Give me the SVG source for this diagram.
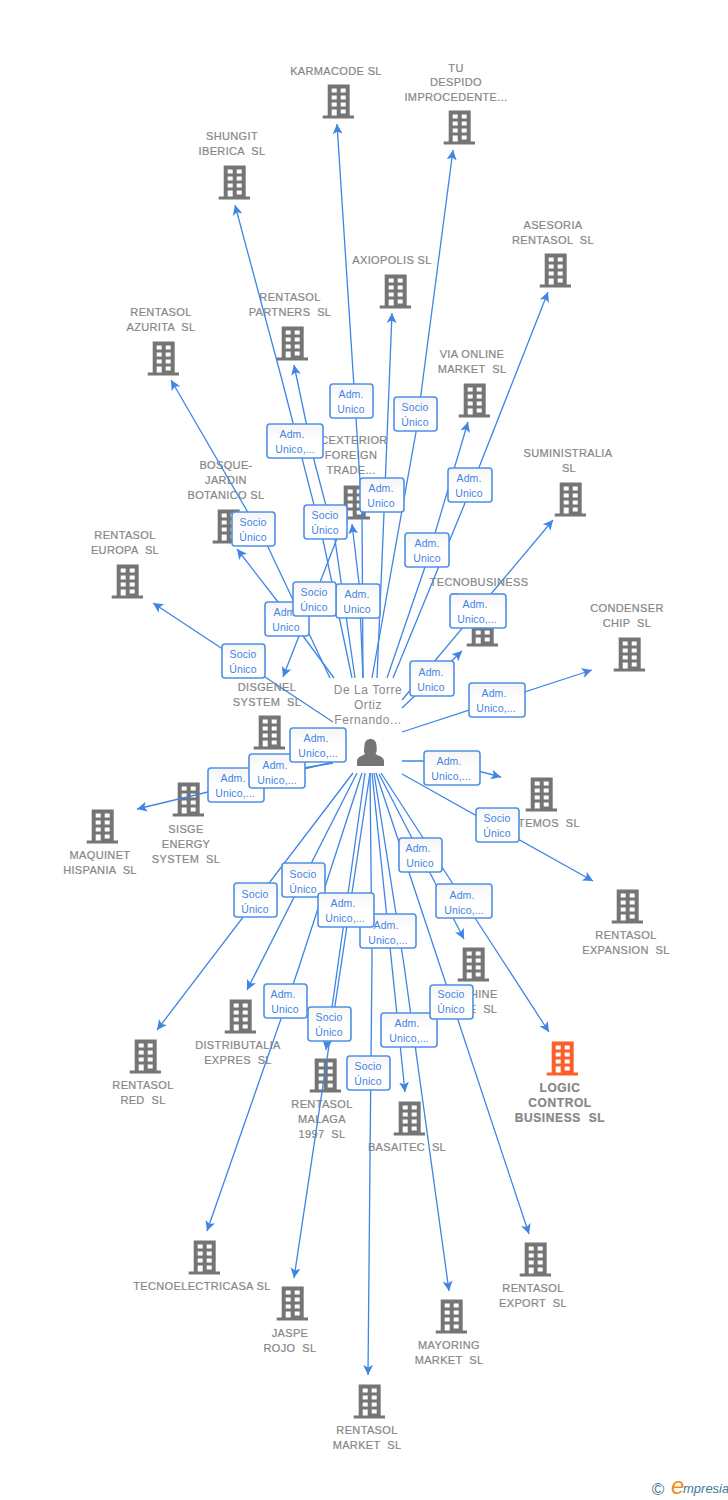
<svg xmlns="http://www.w3.org/2000/svg" width="728" height="1500" viewBox="0 0 728 1500">
<style>
text{font-family:"Liberation Sans",Arial,sans-serif}
.n text{font-size:11px;fill:#868686;stroke:#868686;stroke-width:.2;text-anchor:middle;white-space:pre;letter-spacing:.35px}
.n.hi text{font-size:12px;letter-spacing:.6px;font-weight:bold}
.c path{fill:none;stroke:#3f85e3;stroke-width:1.3;marker-end:url(#a)}
.b rect{fill:url(#g);stroke:#4f90e6;stroke-width:1.6}
.b text{font-size:10.5px;fill:#3f85e3;text-anchor:middle;letter-spacing:.1px}
.p{font-size:12px;fill:#8a8a8a;text-anchor:middle;letter-spacing:.55px}
</style>
<defs>
<linearGradient id="g" x1="0" y1="0" x2="0" y2="1"><stop offset="0" stop-color="#f5f5f5"/><stop offset=".5" stop-color="#fff"/></linearGradient>
<marker id="a" markerUnits="userSpaceOnUse" markerWidth="12" markerHeight="12" refX="10" refY="5.5" orient="auto"><path d="M0,0.5 L10,5.5 L0,10.5 L2.5,5.5Z" fill="#3f85e3"/></marker>
<symbol id="i" width="32" height="35" viewBox="-0.7 -0.4 32 35"><path fill="#757575" fill-rule="evenodd" d="M5,0H27V31H32V34H0V31H5ZM9,4V8H14V4ZM18,4V8H23V4ZM9,11V15H14V11ZM18,11V15H23V11ZM9,18V22H14V18ZM18,18V22H23V18ZM9,25V31H14V25ZM18,25V29H23V25Z"/></symbol>
<symbol id="r" width="32" height="35" viewBox="-0.7 -0.4 32 35"><path fill="#fb5f2c" fill-rule="evenodd" d="M5,0H27V31H32V34H0V31H5ZM9,4V8H14V4ZM18,4V8H23V4ZM9,11V15H14V11ZM18,11V15H23V11ZM9,18V22H14V18ZM18,18V22H23V18ZM9,25V31H14V25ZM18,25V29H23V25Z"/></symbol>
</defs>
<g id="nodes">
<g id="n1" class="n"><use href="#i" x="322" y="84"/><text x="336" y="75">KARMACODE SL</text></g>
<g id="n2" class="n"><use href="#i" x="443" y="110"/><text x="456" y="72">TU</text><text x="456" y="86">DESPIDO</text><text x="456" y="101">IMPROCEDENTE...</text></g>
<g id="n3" class="n"><use href="#i" x="218" y="165"/><text x="232" y="140">SHUNGIT</text><text x="232" y="155">IBERICA  SL</text></g>
<g id="n4" class="n"><use href="#i" x="539" y="253"/><text x="553" y="229">ASESORIA</text><text x="553" y="244">RENTASOL  SL</text></g>
<g id="n5" class="n"><use href="#i" x="379" y="274"/><text x="392" y="264">AXIOPOLIS SL</text></g>
<g id="n6" class="n"><use href="#i" x="276" y="326"/><text x="290" y="301">RENTASOL</text><text x="290" y="316">PARTNERS  SL</text></g>
<g id="n7" class="n"><use href="#i" x="147" y="341"/><text x="161" y="316">RENTASOL</text><text x="161" y="331">AZURITA  SL</text></g>
<g id="n8" class="n"><use href="#i" x="458" y="383"/><text x="472" y="358">VIA ONLINE</text><text x="472" y="373">MARKET  SL</text></g>
<g id="n9" class="n"><use href="#i" x="338" y="485"/><text x="354" y="444">CEXTERIOR</text><text x="351" y="459">FOREIGN</text><text x="351" y="474">TRADE...</text></g>
<g id="n10" class="n"><use href="#i" x="212" y="509"/><text x="226" y="469">BOSQUE-</text><text x="226" y="484">JARDIN</text><text x="226" y="499">BOTANICO SL</text></g>
<g id="n11" class="n"><use href="#i" x="554" y="482"/><text x="568" y="457">SUMINISTRALIA</text><text x="569" y="472">SL</text></g>
<g id="n12" class="n"><use href="#i" x="111" y="564"/><text x="125" y="539">RENTASOL</text><text x="125" y="554">EUROPA  SL</text></g>
<g id="n13" class="n"><use href="#i" x="466" y="612"/><text x="479" y="586">TECNOBUSINESS</text><text x="479" y="601">E          SL</text></g>
<g id="n14" class="n"><use href="#i" x="613" y="637"/><text x="627" y="612">CONDENSER</text><text x="627" y="627">CHIP  SL</text></g>
<g id="n15" class="n"><use href="#i" x="253" y="715"/><text x="267" y="691">DISGENEL</text><text x="267" y="706">SYSTEM  SL</text></g>
<g id="n16" class="n"><use href="#i" x="172" y="782"/><text x="186" y="833">SISGE</text><text x="186" y="848">ENERGY</text><text x="186" y="863">SYSTEM  SL</text></g>
<g id="n17" class="n"><use href="#i" x="86" y="809"/><text x="100" y="859">MAQUINET</text><text x="100" y="874">HISPANIA  SL</text></g>
<g id="n18" class="n"><use href="#i" x="525" y="777"/><text x="549" y="827">TEMOS  SL</text></g>
<g id="n19" class="n"><use href="#i" x="611" y="889"/><text x="626" y="939">RENTASOL</text><text x="626" y="954">EXPANSION  SL</text></g>
<g id="n20" class="n"><use href="#i" x="457" y="947"/><text x="471" y="998">MACHINE</text><text x="483" y="1013">E  SL</text></g>
<g id="n21" class="n"><use href="#i" x="224" y="999"/><text x="238" y="1049">DISTRIBUTALIA</text><text x="238" y="1064">EXPRES  SL</text></g>
<g id="n22" class="n"><use href="#i" x="129" y="1039"/><text x="143" y="1089">RENTASOL</text><text x="143" y="1104">RED  SL</text></g>
<g id="n23" class="n hi"><use href="#r" x="546" y="1041"/><text x="560" y="1092">LOGIC</text><text x="560" y="1107">CONTROL</text><text x="560" y="1122">BUSINESS  SL</text></g>
<g id="n24" class="n"><use href="#i" x="309" y="1058"/><text x="322" y="1108">RENTASOL</text><text x="322" y="1123">MALAGA</text><text x="322" y="1138">1997  SL</text></g>
<g id="n25" class="n"><use href="#i" x="393" y="1101"/><text x="407" y="1151">BASAITEC  SL</text></g>
<g id="n26" class="n"><use href="#i" x="188" y="1240"/><text x="202" y="1290">TECNOELECTRICASA SL</text></g>
<g id="n27" class="n"><use href="#i" x="276" y="1286"/><text x="290" y="1337">JASPE</text><text x="290" y="1352">ROJO  SL</text></g>
<g id="n28" class="n"><use href="#i" x="435" y="1299"/><text x="449" y="1349">MAYORING</text><text x="449" y="1364">MARKET  SL</text></g>
<g id="n29" class="n"><use href="#i" x="519" y="1242"/><text x="533" y="1292">RENTASOL</text><text x="533" y="1307">EXPORT  SL</text></g>
<g id="n30" class="n"><use href="#i" x="353" y="1384"/><text x="367" y="1434">RENTASOL</text><text x="367" y="1449">MARKET  SL</text></g>
</g>
<g id="person"><text class="p" x="368" y="694">De La Torre</text><text class="p" x="368" y="709">Ortiz</text><text class="p" x="368" y="724">Fernando...</text>
<path fill="#757575" d="M357,766V761C357,757 362,756 365,754C363,751 364.500,748 364.500,745.500C364.500,741 367.500,739 370.500,739C373.500,739 376.500,741 376.500,745.500C376.500,748 377.500,751 375.500,754C379,756 384,757 384,761V766Z"/></g>
<g id="connectors" class="c">
<path d="M363,678L362,513L356,418L337,124"/>
<path d="M372,678L416,432L453,150"/>
<path d="M352,678L323,540L282,380L235,205"/>
<path d="M393,678L465,503L548,292"/>
<path d="M377,678L384,513L392,313"/>
<path d="M355,678L335,540L314,460L294,365"/>
<path d="M330,678L268,547L171,380"/>
<path d="M387,678L425,567L468,422"/>
<path d="M363,678L359,583L352,524"/>
<path d="M402,700L553,520"/>
<path d="M334,678L278,602L237,549"/>
<path d="M333,722L153,603"/>
<path d="M402,708L462,651"/>
<path d="M402,732L592,670"/>
<path d="M338,536L283,677"/>
<path d="M333,763L222,782"/>
<path d="M333,762L137,809"/>
<path d="M402,761H440L501,777"/>
<path d="M402,774L593,881"/>
<path d="M379,774L464,939"/>
<path d="M381,773L549,1032"/>
<path d="M353,773L157,1030"/>
<path d="M357,773L247,990"/>
<path d="M365,773L326,1050"/>
<path d="M362,773L298,970L207,1231"/>
<path d="M370,773L294,1278"/>
<path d="M372,773L405,1092"/>
<path d="M370,773L372,960L370,1160L368,1375"/>
<path d="M374,773L404,965L449,1291"/>
<path d="M376,773L529,1234"/>
</g>
<g id="labels" class="b">
<g><rect x="330" y="384" width="43" height="34" rx="3"/><text x="351" y="398">Adm.</text><text x="351" y="413">Unico</text></g>
<g><rect x="267" y="424" width="56" height="34" rx="3"/><text x="292" y="438">Adm.</text><text x="295" y="453">Unico,...</text></g>
<g><rect x="394" y="397" width="43" height="34" rx="3"/><text x="415" y="411">Socio</text><text x="415" y="426">Único</text></g>
<g><rect x="360" y="478" width="44" height="34" rx="3"/><text x="381" y="492">Adm.</text><text x="381" y="507">Unico</text></g>
<g><rect x="304" y="505" width="43" height="34" rx="3"/><text x="325" y="519">Socio</text><text x="325" y="534">Único</text></g>
<g><rect x="232" y="512" width="43" height="34" rx="3"/><text x="253" y="526">Socio</text><text x="253" y="541">Único</text></g>
<g><rect x="448" y="468" width="44" height="34" rx="3"/><text x="469" y="482">Adm.</text><text x="469" y="497">Unico</text></g>
<g><rect x="405" y="533" width="44" height="34" rx="3"/><text x="427" y="547">Adm.</text><text x="427" y="562">Unico</text></g>
<g><rect x="450" y="594" width="56" height="34" rx="3"/><text x="475" y="608">Adm.</text><text x="477" y="623">Unico,...</text></g>
<g><rect x="265" y="602" width="44" height="34" rx="3"/><text x="286" y="616">Adm.</text><text x="286" y="631">Unico</text></g>
<g><rect x="336" y="584" width="44" height="34" rx="3"/><text x="357" y="598">Adm.</text><text x="357" y="613">Unico</text></g>
<g><rect x="293" y="582" width="43" height="34" rx="3"/><text x="314" y="596">Socio</text><text x="314" y="611">Único</text></g>
<g><rect x="222" y="644" width="43" height="34" rx="3"/><text x="243" y="658">Socio</text><text x="243" y="673">Único</text></g>
<g><rect x="410" y="661" width="44" height="35" rx="3"/><text x="431" y="676">Adm.</text><text x="431" y="691">Unico</text></g>
<g><rect x="469" y="683" width="56" height="34" rx="3"/><text x="494" y="697">Adm.</text><text x="496" y="712">Unico,...</text></g>
<g><rect x="208" y="768" width="56" height="34" rx="3"/><text x="233" y="782">Adm.</text><text x="235" y="797">Unico,...</text></g>
<g><rect x="249" y="754" width="56" height="34" rx="3"/><text x="275" y="769">Adm.</text><text x="277" y="784">Unico,...</text></g>
<g><rect x="290" y="728" width="56" height="34" rx="3"/><text x="316" y="742">Adm.</text><text x="318" y="757">Unico,...</text></g>
<g><rect x="424" y="751" width="56" height="34" rx="3"/><text x="449" y="765">Adm.</text><text x="451" y="780">Unico,...</text></g>
<g><rect x="476" y="808" width="43" height="34" rx="3"/><text x="497" y="822">Socio</text><text x="497" y="837">Único</text></g>
<g><rect x="399" y="838" width="43" height="34" rx="3"/><text x="418" y="852">Adm.</text><text x="420" y="867">Unico</text></g>
<g><rect x="436" y="884" width="56" height="34" rx="3"/><text x="462" y="899">Adm.</text><text x="464" y="914">Unico,...</text></g>
<g><rect x="234" y="883" width="43" height="34" rx="3"/><text x="255" y="898">Socio</text><text x="255" y="913">Único</text></g>
<g><rect x="282" y="863" width="43" height="34" rx="3"/><text x="303" y="878">Socio</text><text x="303" y="893">Único</text></g>
<g><rect x="360" y="914" width="56" height="34" rx="3"/><text x="386" y="929">Adm.</text><text x="388" y="944">Unico,...</text></g>
<g><rect x="318" y="893" width="56" height="34" rx="3"/><text x="343" y="907">Adm.</text><text x="345" y="922">Unico,...</text></g>
<g><rect x="264" y="984" width="43" height="34" rx="3"/><text x="283" y="998">Adm.</text><text x="285" y="1013">Unico</text></g>
<g><rect x="308" y="1007" width="43" height="34" rx="3"/><text x="329" y="1021">Socio</text><text x="329" y="1036">Único</text></g>
<g><rect x="347" y="1056" width="43" height="34" rx="3"/><text x="368" y="1070">Socio</text><text x="368" y="1085">Único</text></g>
<g><rect x="381" y="1013" width="56" height="34" rx="3"/><text x="407" y="1027">Adm.</text><text x="409" y="1042">Unico,...</text></g>
<g><rect x="430" y="985" width="43" height="34" rx="3"/><text x="451" y="998">Socio</text><text x="451" y="1013">Único</text></g>
</g>
<g id="brand"><text x="658" y="1495" font-size="17" fill="#3e7a94" text-anchor="middle">©</text><text x="671" y="1494" font-size="24" font-style="italic" fill="#f08a24" font-family="Liberation Serif,serif">e</text><text x="683" y="1493" font-size="13" font-style="italic" fill="#3e7a94" font-family="Liberation Serif,serif">mpresia</text></g>
</svg>
